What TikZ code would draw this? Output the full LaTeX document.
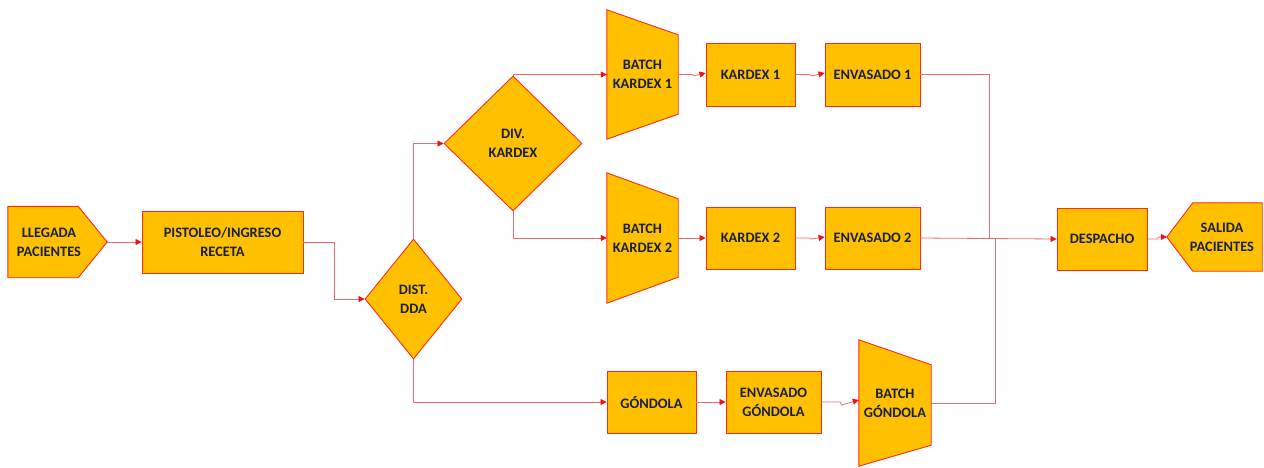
\documentclass[tikz,border=0pt]{standalone}
\usepackage{fontspec}
\setmainfont{Carlito}
\usetikzlibrary{shapes.geometric,arrows.meta,backgrounds,calc}
\definecolor{gold}{HTML}{FFC000}
\definecolor{bord}{HTML}{FF2A1A}
\definecolor{lnk}{HTML}{F06A6A}
\definecolor{tipc}{HTML}{EE1111}
\definecolor{txt}{HTML}{18203A}
\begin{document}
\begin{tikzpicture}[x=1pt,y=-1pt,
  font=\bfseries\fontsize{14.4}{19}\selectfont,
  box/.style={draw=bord, fill=gold, line width=0.9pt, text=txt, align=center, inner sep=0pt},
  ghost/.style={inner sep=0pt, text=txt, align=center},
  dia/.style={diamond, draw=bord, fill=gold, line width=0.9pt, text=txt, align=center, inner sep=0pt, aspect=0.8},
  shp/.style={draw=bord, fill=gold, line width=0.9pt},
  link/.style={draw=lnk, line width=0.8pt},
  arr/.style={link, -{Triangle[length=6pt,width=6pt,color=tipc]}}
]
\useasboundingbox (0,0) rectangle (1264,467);

% nodes
\node[ghost, minimum width=99pt, minimum height=71pt] (lleg) at (57.5,242) {};
\node[ghost] at (49,242) {LLEGADA\\PACIENTES};
\node[box, minimum width=161pt, minimum height=62pt] (pist) at (222.5,242) {PISTOLEO/INGRESO\\RECETA};
\node[dia, minimum width=97pt, minimum height=120pt] (dist) at (413.5,299) {DIST.\\DDA};
\node[dia, minimum width=138pt, minimum height=135pt] (divk) at (513,143.5) {DIV.\\KARDEX};

\node[ghost, minimum width=71pt, minimum height=129pt] (bk1) at (642.5,74.5) {BATCH\\KARDEX 1};
\node[box, minimum width=89pt, minimum height=63pt] (k1) at (750.5,74.5) {KARDEX 1};
\node[box, minimum width=95pt, minimum height=63pt] (e1) at (872.5,74.5) {ENVASADO 1};

\node[ghost, minimum width=71pt, minimum height=130pt] (bk2) at (642.5,238) {BATCH\\KARDEX 2};
\node[box, minimum width=89pt, minimum height=62pt] (k2) at (750.5,238) {KARDEX 2};
\node[box, minimum width=95pt, minimum height=62pt] (e2) at (872.5,238) {ENVASADO 2};

\node[box, minimum width=89pt, minimum height=62pt] (gon) at (651.5,402) {GÓNDOLA};
\node[box, minimum width=95pt, minimum height=62pt] (eg) at (773.5,402) {ENVASADO\\GÓNDOLA};
\node[ghost, minimum width=72pt, minimum height=126pt] (bg) at (895,403) {BATCH\\GÓNDOLA};

\node[box, minimum width=90pt, minimum height=62pt] (desp) at (1102,239) {DESPACHO};
\node[ghost, minimum width=95pt, minimum height=68pt] (sal) at (1214.5,237) {};
\node[ghost] at (1222,237) {SALIDA\\PACIENTES};

% shapes drawn behind the text
\begin{scope}[on background layer]
\draw[shp] (lleg.north west) -- ($(lleg.north east)+(-29,0)$) -- (lleg.east) -- ($(lleg.south east)+(-29,0)$) -- (lleg.south west) -- cycle;
\draw[shp] (bk1.north west) -- ($(bk1.north east)+(0,25)$) -- ($(bk1.south east)+(0,-25)$) -- (bk1.south west) -- cycle;
\draw[shp] (bk2.north west) -- ($(bk2.north east)+(0,26)$) -- ($(bk2.south east)+(0,-26)$) -- (bk2.south west) -- cycle;
\draw[shp] (bg.north west) -- ($(bg.north east)+(0,25)$) -- ($(bg.south east)+(0,-21)$) -- (bg.south west) -- cycle;
\draw[shp] (sal.north east) -- ($(sal.north west)+(26,0)$) -- (sal.west) -- ($(sal.south west)+(26,0)$) -- (sal.south east) -- cycle;
\end{scope}

\coordinate (m1) at (989,239);
\coordinate (m2) at (995,239);

% connectors
\draw[arr] (lleg.east) -- (pist.west);
\draw[arr] (pist.east) -- ++(31,0) |- (dist.west);
\draw[arr] (dist.north) |- (divk.west);
\draw[arr] (divk.north) |- (bk1.west);
\draw[arr] (divk.south) |- (bk2.west);
\draw[arr] (dist.south) |- (gon.west);
\draw[arr] (bk1.east) -- ++(14,0) -- ++(2,1.5) -- ([yshift=1.5pt]k1.west);
\draw[arr] (k1.east) -- ++(14,0) -- ++(2,1.5) -- ([yshift=1.5pt]e1.west);
\draw[arr] (bk2.east) -- (k2.west);
\draw[arr] (k2.east) -- ++(14,0) -- ++(2,1) -- ([yshift=1pt]e2.west);
\draw[arr] (gon.east) -- (eg.west);
\draw[arr] (eg.east) -- ++(19,0) -- ++(1,3) -- ([yshift=3pt]bg.west);
\draw[link] (e1.east) -| (m1);
\draw[link] (bg.east) -| (m2);
\draw[arr] (e2.east) -- (desp.west);
\draw[arr] (desp.east) -- ++(10,0) -- ++(1,-2) -- (sal.west);
\end{tikzpicture}
\end{document}
